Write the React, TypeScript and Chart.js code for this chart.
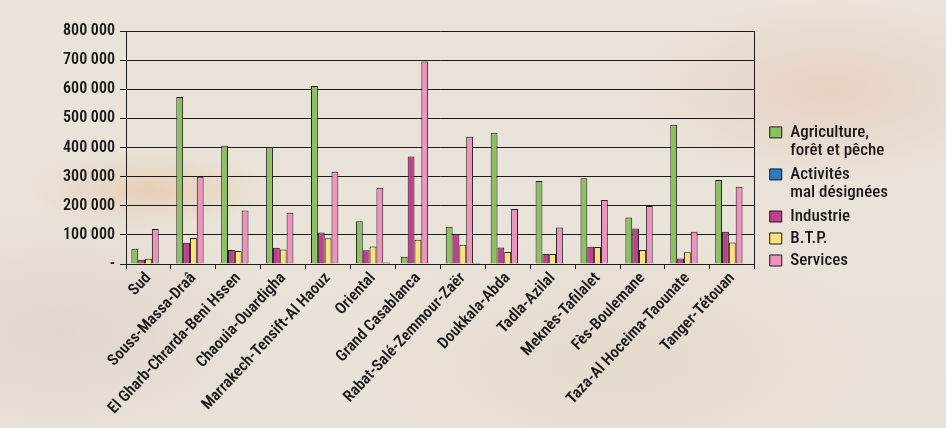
import React, { useEffect, useRef } from "react";
import { Chart, registerables } from "chart.js";

Chart.register(...registerables);

const categories = [
  "Sud",
  "Souss-Massa-Draâ",
  "El Gharb-Chrarda-Beni Hssen",
  "Chaouia-Ouardigha",
  "Marrakech-Tensift-Al Haouz",
  "Oriental",
  "Grand Casablanca",
  "Rabat-Salé-Zemmour-Zaër",
  "Doukkala-Abda",
  "Tadla-Azilal",
  "Meknès-Tafilalet",
  "Fès-Boulemane",
  "Taza-Al Hoceima-Taounate",
  "Tanger-Tétouan",
];

const agriculture = [52000, 573000, 406000, 402000, 611000, 147000, 25000, 128000, 451000, 285000, 294000, 160000, 478000, 288000];
const industrie = [15000, 73000, 48000, 56000, 108000, 47000, 369000, 102000, 57000, 34000, 59000, 122000, 19000, 111000];
const btp = [18000, 89000, 44500, 50000, 88000, 60000, 83000, 66000, 41000, 34000, 58000, 48000, 40000, 74000];
const services = [120000, 300000, 184000, 176000, 317000, 262000, 695000, 437000, 189000, 125000, 220000, 199000, 111000, 265000];
const activites = [0, 0, 0, 0, 0, 5000, 0, 4000, 0, 0, 0, 0, 0, 0];

const seriesNames = ["Agriculture, forêt et pêche", "Industrie", "B.T.P.", "Services", "Activités mal désignées"];
const legendLines: (string | string[])[] = [["Agriculture,", "forêt et pêche"], "Industrie", "B.T.P.", "Services", ["Activités", "mal désignées"]];
const legendRank = [0, 2, 3, 4, 1];

const yTicks = [0, 100000, 200000, 300000, 400000, 500000, 600000, 700000, 800000];

const FONT = "'Roboto Condensed', 'Open Sans Condensed', 'DejaVu Sans Condensed', sans-serif";

function fmt(v: number) {
  if (v === 0) return "-";
  return String(v).replace(/\B(?=(\d{3})+(?!\d))/g, " ");
}

const legendShift = {
  id: "legendShift",
  afterLayout(chart: any) {
    const l = chart.legend;
    if (l) {
      l.top += 10;
      l.bottom += 10;
    }
  },
};

export default function App() {
  const ref = useRef<HTMLCanvasElement | null>(null);

  useEffect(() => {
    if (!ref.current) return;
    const colors = ["#8CC063", "#C13F8E", "#FFE07A", "#EF92BE", "#2A7DC1"];
    const values = [agriculture, industrie, btp, services, activites];
    const chart = new Chart(ref.current, {
      type: "bar",
      data: {
        labels: categories,
        datasets: values.map((d, i) => ({
          label: seriesNames[i],
          data: d,
          backgroundColor: colors[i],
          borderColor: "#1a1a1a",
          borderWidth: 1,
          categoryPercentage: 0.76,
          barPercentage: 1.0,
        })),
      },
      plugins: [legendShift],
      options: {
        responsive: false,
        animation: false,
        layout: { padding: { top: 31, right: 48, left: 0, bottom: 0 } },
        plugins: {
          tooltip: { enabled: false },
          legend: {
            position: "right",
            align: "end",
            fullSize: false,
            labels: {
              boxWidth: 12,
              boxHeight: 11,
              padding: 5,
              color: "#1a1a1a",
              font: { family: FONT, size: 17, weight: "500", lineHeight: 1.09 },
              generateLabels: (c: any) => {
                const items = Chart.defaults.plugins.legend.labels.generateLabels(c);
                items.forEach((it: any) => {
                  it.text = legendLines[it.datasetIndex];
                });
                return items.sort((a: any, b: any) => legendRank[a.datasetIndex] - legendRank[b.datasetIndex]);
              },
            },
          },
        },
        scales: {
          x: {
            grid: { drawOnChartArea: false, color: "#1a1a1a", tickLength: 5, offset: true },
            border: { color: "#1a1a1a", width: 1 },
            ticks: {
              autoSkip: false,
              maxRotation: 47,
              minRotation: 47,
              color: "#1a1a1a",
              padding: 0,
              font: { family: FONT, size: 16, weight: "600" },
            },
            afterFit: (s: any) => {
              s.height = 164;
            },
          },
          y: {
            min: 0,
            max: 800000,
            afterBuildTicks: (s: any) => {
              s.ticks = yTicks.map((v) => ({ value: v }));
            },
            grid: { color: "#1a1a1a", lineWidth: 1, tickLength: 6 },
            border: { color: "#1a1a1a", width: 1 },
            ticks: {
              color: "#1a1a1a",
              padding: 5,
              font: { family: FONT, size: 16, weight: "600" },
              callback: (v: any) => fmt(Number(v)),
            },
            afterFit: (s: any) => {
              s.width = 126;
            },
          },
          y2: {
            position: "right",
            grid: { drawOnChartArea: false, drawTicks: false },
            border: { display: true, color: "#1a1a1a", width: 1 },
            ticks: { display: false },
            afterFit: (s: any) => {
              s.width = 10;
            },
          },
        },
      },
    } as any);
    return () => chart.destroy();
  }, []);

  const bg =
    "radial-gradient(ellipse 120px 40px at 150px 190px, rgba(225,170,120,0.35), rgba(225,170,120,0) 100%)," +
    "radial-gradient(ellipse 200px 90px at 830px 90px, rgba(225,175,150,0.35), rgba(225,175,150,0) 100%)," +
    "radial-gradient(ellipse 220px 120px at 60px 330px, rgba(190,180,170,0.25), rgba(190,180,170,0) 100%)," +
    "radial-gradient(ellipse 260px 120px at 620px 360px, rgba(215,200,180,0.3), rgba(215,200,180,0) 100%)," +
    "linear-gradient(180deg, #EAE3DA 0%, #E9E2D8 100%)";

  return (
    <div style={{ position: "fixed", left: 0, top: 0, width: 946, height: 428, background: bg, overflow: "hidden" }}>
      <canvas ref={ref} width={946} height={428} style={{ display: "block", width: 946, height: 428 }} />
    </div>
  );
}
